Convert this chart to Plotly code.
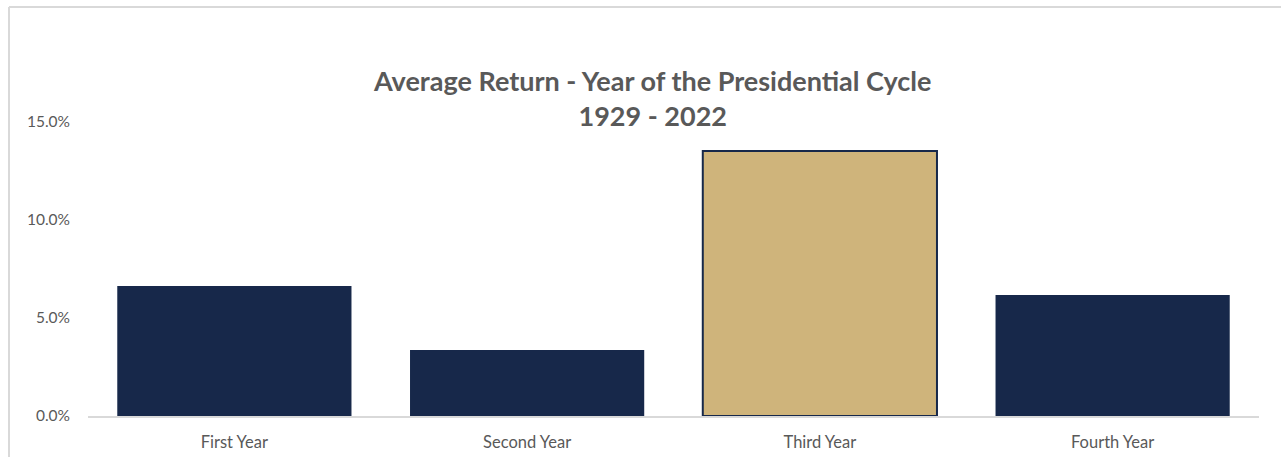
import plotly.graph_objects as go

categories = ["First Year", "Second Year", "Third Year", "Fourth Year"]
avg_return = [6.63, 3.37, 13.52, 6.17]
bar_colors = ["#17284A", "#17284A", "#CFB47B", "#17284A"]
line_colors = ["#17284A", "#17284A", "#17284A", "#17284A"]
line_widths = [0, 0, 2, 0]
y_ticks = [0, 5, 10, 15]
y_tick_labels = ["0.0%", "5.0%", "10.0%", "15.0%"]
title_lines = ["Average Return - Year of the Presidential Cycle", "1929 - 2022"]

FONT = "Lato"
GREY = "#595959"

fig = go.Figure(go.Bar(
    x=categories, y=avg_return,
    marker=dict(color=bar_colors, line=dict(color=line_colors, width=line_widths)),
    width=0.8,
))

L, R, T, B = 88, 22, 122, 41
W, H = 1281, 457
pw = W - L - R
ph = H - T - B

fig.update_layout(
    width=W, height=H,
    margin=dict(l=L, r=R, t=T, b=B),
    paper_bgcolor="white", plot_bgcolor="white",
    showlegend=False,
    font=dict(family=FONT, color=GREY),
    xaxis=dict(showline=True, linecolor="#D9D9D9", linewidth=1.5,
               showgrid=False, ticks="", ticklabelstandoff=10, automargin=False,
               tickfont=dict(size=16.5, color=GREY, family=FONT)),
    yaxis=dict(range=[0, 15], tickvals=y_ticks, ticktext=y_tick_labels,
               showgrid=False, zeroline=False, showline=False, ticks="",
               ticklabelstandoff=17, automargin=False,
               tickfont=dict(size=15.5, color=GREY, family=FONT)),
    annotations=[dict(
        text="<b>" + title_lines[0] + "</b><br><b>" + title_lines[1] + "</b>",
        xref="paper", yref="paper", x=(652 - L) / pw, y=(H - B - 98) / ph,
        xanchor="center", yanchor="middle", showarrow=False,
        font=dict(size=27, color=GREY, family=FONT), align="center",
    )],
    shapes=[
        dict(type="line", xref="paper", yref="paper",
             x0=(9 - L) / pw, x1=(W + 5 - L) / pw,
             y0=(H - B - 7) / ph, y1=(H - B - 7) / ph,
             line=dict(color="#D9D9D9", width=2)),
        dict(type="line", xref="paper", yref="paper",
             x0=(9 - L) / pw, x1=(9 - L) / pw,
             y0=(H - B - 7) / ph, y1=(-B - 5) / ph,
             line=dict(color="#D9D9D9", width=2)),
    ],
)

fig.write_html("out.html", config={"displayModeBar": False},
               post_script="document.body.style.margin='0';document.body.style.overflow='hidden';")
